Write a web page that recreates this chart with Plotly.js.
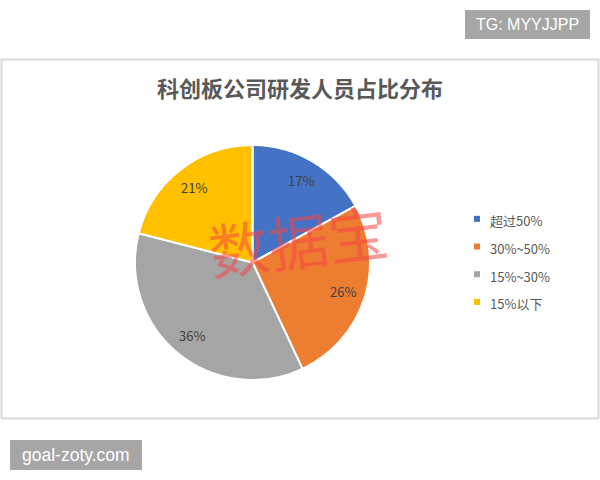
<!DOCTYPE html>
<html>
<head>
<meta charset="utf-8">
<script src="https://cdn.plot.ly/plotly-3.0.1.min.js"></script>
<style>html,body{margin:0;padding:0;background:#fff;}#chart{width:600px;height:480px;}</style>
</head>
<body>
<div id="chart"></div>
<script>
const categories = ["超过50%", "30%~50%", "15%~30%", "15%以下"];
const shares = [17, 26, 36, 21];
const sliceColors = ["#4472C4", "#ED7D31", "#A5A5A5", "#FFC000"];
const chartTitle = "科创板公司研发人员占比分布";
const watermark = "数据宝";
const tagTop = "TG: MYYJJPP";
const tagBottom = "goal-zoty.com";

const W = 600, H = 480;
const px = x => x / W;
const py = y => 1 - y / H;

// pie geometry (pixels)
const pieL = 135, pieR = 370, pieT = 145, pieB = 380;
const cx = (pieL + pieR) / 2, cy = (pieT + pieB) / 2, R = (pieR - pieL) / 2;

const trace = {
  type: "pie",
  labels: categories.map(c => '<span style="font-size:13px">' + c + '</span>'),
  values: shares,
  sort: false,
  direction: "clockwise",
  rotation: 0,
  marker: {colors: sliceColors, line: {color: "#ffffff", width: 2}},
  textinfo: "none",
  hoverinfo: "label+percent",
  domain: {x: [px(pieL), px(pieR)], y: [py(pieB), py(pieT)]}
};

// percentage labels placed at each slice's mid-angle, derived from the data
const total = shares.reduce((a, b) => a + b, 0);
let cum = 0;
const pctLabels = shares.map(v => {
  const mid = (cum + v / 2) / total * 2 * Math.PI;
  cum += v;
  const r = 0.81 * R;
  return {
    text: Math.round(v / total * 100) + "%",
    xref: "paper", yref: "paper",
    x: px(cx + r * Math.sin(mid)), y: py(cy - r * Math.cos(mid)),
    showarrow: false, xanchor: "center", yanchor: "middle",
    font: {family: "Noto Sans CJK SC, sans-serif", size: 13, color: "#404040"}
  };
});

const layout = {
  width: W, height: H,
  margin: {l: 0, r: 0, t: 0, b: 0},
  paper_bgcolor: "#ffffff",
  plot_bgcolor: "#ffffff",
  font: {family: "Noto Sans CJK SC, sans-serif", color: "#595959"},
  title: {
    text: chartTitle,
    font: {family: "Noto Sans CJK SC, sans-serif", size: 22, color: "#595959", weight: "bold"},
    x: 0.5, xanchor: "center", xref: "paper",
    y: py(89), yanchor: "middle", yref: "paper"
  },
  showlegend: true,
  legend: {
    x: px(450), y: py(200), xanchor: "left", yanchor: "top",
    font: {family: "Noto Sans CJK SC, sans-serif", size: 19, color: "#595959"},
    itemwidth: 30,
    bgcolor: "rgba(0,0,0,0)"
  },
  shapes: [
    {type: "rect", xref: "paper", yref: "paper", x0: px(1.5), x1: px(598.5), y0: py(418.5), y1: py(59.5),
     line: {color: "#d9d9d9", width: 2}, fillcolor: "rgba(0,0,0,0)", layer: "below"},
    {type: "rect", xref: "paper", yref: "paper", x0: px(465), x1: px(590), y0: py(39), y1: py(10),
     line: {width: 0}, fillcolor: "#a6a6a6"},
    {type: "rect", xref: "paper", yref: "paper", x0: px(10), x1: px(142), y0: py(470), y1: py(440),
     line: {width: 0}, fillcolor: "#a6a6a6"}
  ],
  annotations: pctLabels.concat([
    {text: tagTop, xref: "paper", yref: "paper", x: px(527.5), y: py(24.5), showarrow: false,
     xanchor: "center", yanchor: "middle",
     font: {family: "Liberation Sans, Arial, sans-serif", size: 16, color: "#ffffff"}},
    {text: tagBottom, xref: "paper", yref: "paper", x: px(76), y: py(455), showarrow: false,
     xanchor: "center", yanchor: "middle",
     font: {family: "Liberation Sans, Arial, sans-serif", size: 17.5, color: "#ffffff"}},
    {text: watermark, xref: "paper", yref: "paper", x: px(298), y: py(238), showarrow: false,
     xanchor: "center", yanchor: "middle", textangle: -7,
     font: {family: "Noto Sans CJK SC, sans-serif", size: 60, color: "rgba(245,70,70,0.55)"}}
  ])
};

Plotly.newPlot("chart", [trace], layout, {displayModeBar: false, staticPlot: true}).then(gd => {
  // shrink legend swatches to small squares like the reference
  gd.querySelectorAll(".legendpoints path").forEach(p => {
    const t = p.getAttribute("transform") || "";
    p.setAttribute("transform", t + " translate(7,0) scale(0.5)");
    p.style.strokeWidth = "0";
  });
});
</script>
</body>
</html>
